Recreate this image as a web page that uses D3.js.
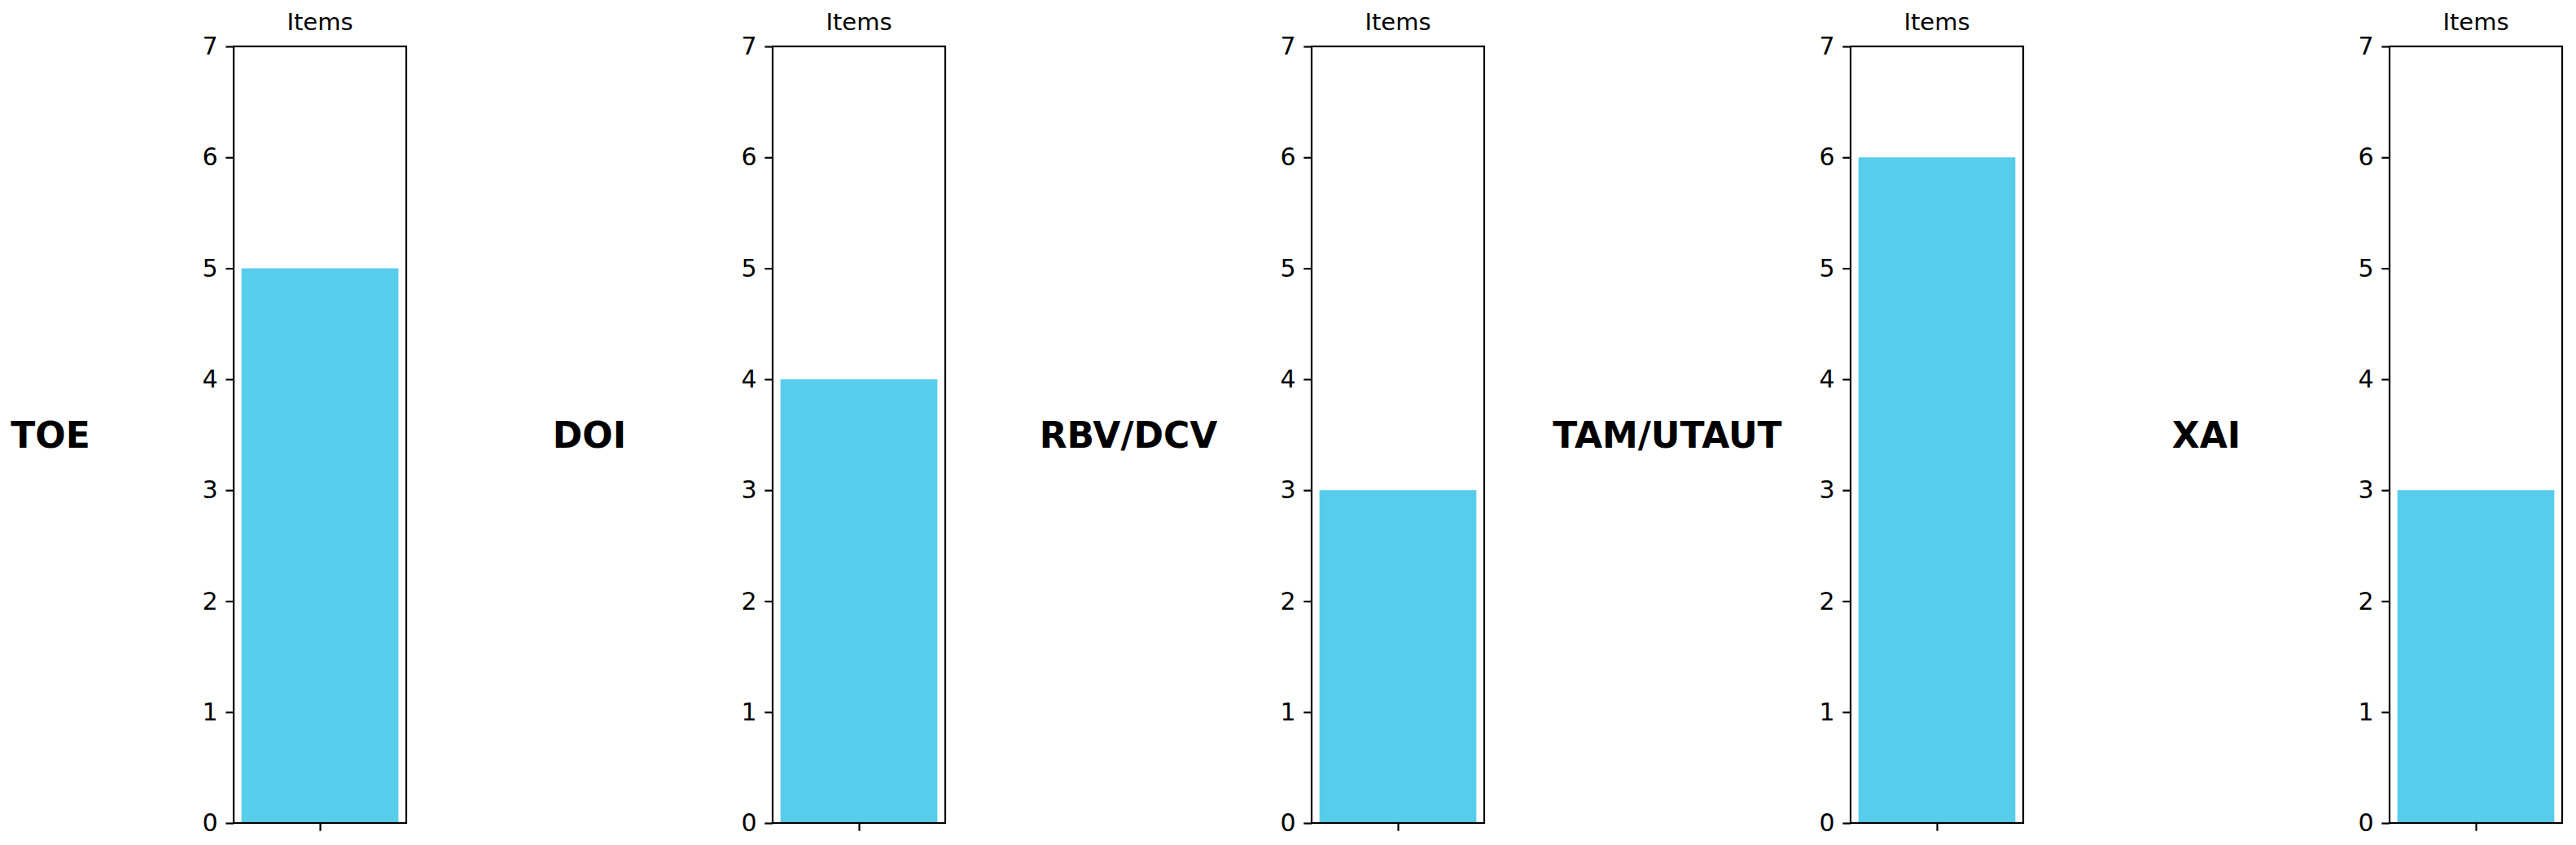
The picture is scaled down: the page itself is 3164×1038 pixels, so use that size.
<!DOCTYPE html>
<meta charset="utf-8">
<html>
<head>
<title>Items per theory</title>
<style>
html, body {
  margin: 0;
  background: #fff;
}
.axis path,
.axis line {
  fill: none;
  stroke: #000;
  stroke-width: 2.2px;
}
.axis text {
  font-family: "DejaVu Sans", sans-serif;
  font-size: 30px;
  fill: #000;
}
.title {
  font-family: "DejaVu Sans", sans-serif;
  font-size: 29px;
}
.theory {
  font-family: "DejaVu Sans", sans-serif;
  font-size: 44px;
  font-weight: bold;
}
</style>
</head>
<body>
<div id="my_dataviz"></div>
<script src="https://d3js.org/d3.v7.min.js"></script>
<script>
// data
var theories = ["TOE", "DOI", "RBV/DCV", "TAM/UTAUT", "XAI"];
var itemCounts = [5, 4, 3, 6, 3];
var yTicks = [0, 1, 2, 3, 4, 5, 6, 7];
var panelTitle = "Items";

var W = 3164, H = 1038;
var firstLeft = 287, step = 662, panelW = 212;
var plotTop = 57, plotBottom = 1011;
var labelOffset = 225;
var plotH = plotBottom - plotTop;

var svg = d3.select("#my_dataviz")
  .append("svg")
    .attr("width", W)
    .attr("height", H);

var y = d3.scaleLinear()
  .domain([0, 7])
  .range([plotH, 0]);

// single bar, width 0.8, matplotlib style 5% margins
var x = d3.scaleLinear()
  .domain([-0.44, 0.44])
  .range([0, panelW]);

theories.forEach(function(name, i) {
  var left = firstLeft + i * step;

  // theory label on the left of each panel
  svg.append("text")
    .attr("class", "theory")
    .attr("x", left - labelOffset)
    .attr("y", (plotTop + plotBottom) / 2)
    .attr("text-anchor", "middle")
    .attr("dominant-baseline", "central")
    .text(name);

  var g = svg.append("g")
    .attr("transform", "translate(" + left + "," + plotTop + ")");

  g.append("rect")
    .attr("x", x(-0.4))
    .attr("width", x(0.4) - x(-0.4))
    .attr("y", y(itemCounts[i]))
    .attr("height", y(0) - y(itemCounts[i]))
    .attr("fill", "#57cdeb");

  // frame
  g.append("rect")
    .attr("width", panelW)
    .attr("height", plotH)
    .attr("fill", "none")
    .attr("stroke", "#000")
    .attr("stroke-width", 2.2);

  g.append("g")
    .attr("class", "axis")
    .call(d3.axisLeft(y).tickValues(yTicks).tickFormat(d3.format("d"))
      .tickSize(9.7).tickPadding(9.7))
    .select(".domain").remove();

  g.append("g")
    .attr("class", "axis")
    .attr("transform", "translate(0," + plotH + ")")
    .call(d3.axisBottom(x).tickValues([0]).tickFormat("")
      .tickSize(9.7))
    .select(".domain").remove();

  g.append("text")
    .attr("class", "title")
    .attr("x", panelW / 2)
    .attr("y", -20)
    .attr("text-anchor", "middle")
    .text(panelTitle);
});
</script>
</body>
</html>
